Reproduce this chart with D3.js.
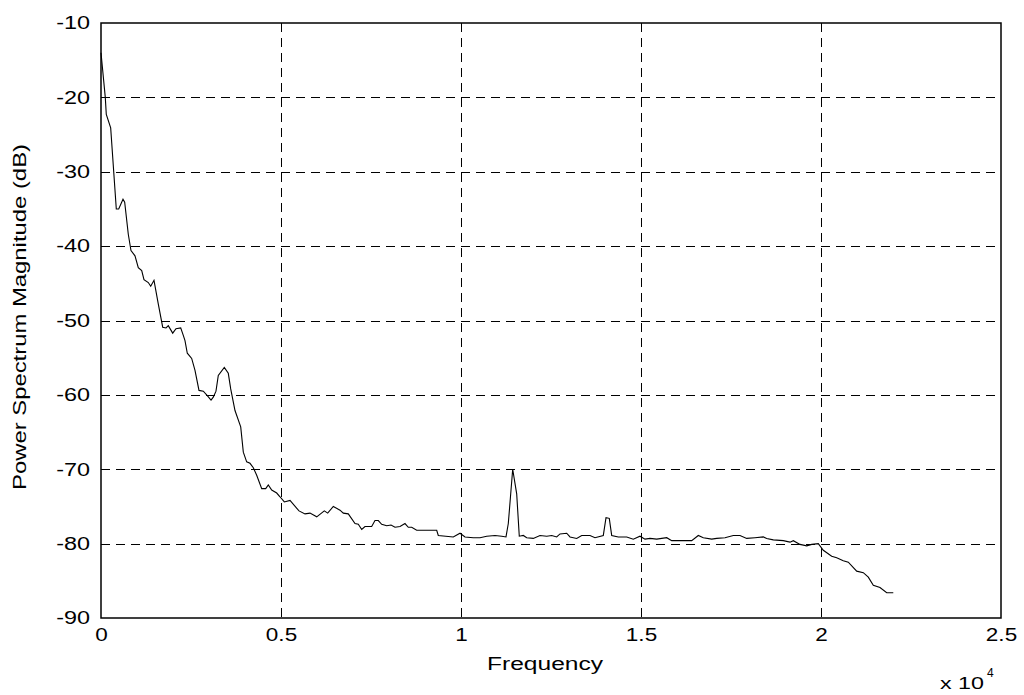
<!DOCTYPE html>
<html>
<head>
<meta charset="utf-8">
<script src="https://cdn.jsdelivr.net/npm/d3@7"></script>
<style>
  html, body { margin: 0; padding: 0; background: #fff; }
  svg text { font-family: "Liberation Sans", Arial, Helvetica, sans-serif; fill: #000; }
</style>
</head>
<body>
<svg id="chart" width="1024" height="695"></svg>
<script>
// Frequency (Hz) samples of the spectrum
const freq = [0,119,147,269,425,492,611,658,758,833,944,1036,1131,1194,1314,1381,1472,1592,1714,1806,1869,1992,2083,2214,2286,2333,2397,2519,2611,2722,2842,2953,3056,3119,3194,3258,3425,3536,3603,3722,3881,3953,4047,4139,4231,4325,4464,4575,4647,4742,4881,4972,5092,5250,5500,5667,5806,5992,6203,6297,6453,6639,6731,6869,7056,7147,7242,7333,7519,7611,7703,7797,7936,8056,8167,8306,8444,8536,8631,8769,9325,9369,9786,9972,10111,10342,10528,10714,10944,11131,11250,11314,11436,11547,11619,11731,11825,12008,12194,12381,12519,12658,12750,12936,13028,13214,13353,13583,13722,13953,14028,14119,14186,14369,14603,14786,14972,15111,15250,15436,15714,15853,16408,16592,16731,16964,17103,17333,17564,17750,17936,18167,18397,18492,18675,18953,19139,19231,19417,19603,19742,19925,20064,20297,20436,20619,20758,20992,21175,21314,21453,21639,21825,22008];
// Power spectrum magnitude (dB)
const power = [-14.0,-20.0,-22.3,-24.1,-35.0,-35.0,-33.7,-34.1,-38.4,-40.6,-41.3,-42.9,-43.3,-44.5,-44.9,-45.4,-44.6,-47.8,-50.9,-51.0,-50.7,-51.7,-51.1,-51.0,-52.0,-52.7,-54.4,-55.1,-56.7,-59.4,-59.5,-60.1,-60.7,-60.3,-59.5,-57.4,-56.3,-57.1,-59.2,-62.1,-64.3,-67.7,-69.0,-69.2,-69.8,-70.8,-72.6,-72.6,-72.1,-72.8,-73.2,-73.7,-74.4,-74.2,-75.6,-76.0,-75.9,-76.4,-75.6,-75.9,-75.0,-75.5,-75.9,-76.0,-77.3,-77.4,-78.1,-77.7,-77.7,-76.9,-76.9,-77.4,-77.6,-77.5,-77.8,-77.7,-77.3,-77.8,-77.8,-78.2,-78.2,-78.9,-79.1,-78.6,-79.1,-79.2,-79.2,-79.0,-78.9,-79.0,-79.1,-77.3,-70.0,-73.3,-79.0,-78.9,-79.2,-79.3,-78.9,-79.0,-78.9,-79.1,-78.7,-78.6,-79.1,-79.3,-78.9,-78.9,-79.2,-78.9,-76.5,-76.6,-78.9,-79.1,-79.1,-79.4,-79.0,-79.4,-79.3,-79.4,-79.2,-79.6,-79.6,-78.9,-79.2,-79.4,-79.3,-79.2,-78.9,-78.9,-79.3,-79.2,-79.1,-79.3,-79.5,-79.6,-79.8,-79.6,-80.1,-80.3,-80.1,-80.0,-80.9,-81.7,-81.9,-82.3,-82.5,-83.7,-83.9,-84.5,-85.6,-85.9,-86.6,-86.6];
const xTicks = [0, 5000, 10000, 15000, 20000, 25000];
const xTickLabels = ["0", "0.5", "1", "1.5", "2", "2.5"];
const yTicks = [-90, -80, -70, -60, -50, -40, -30, -20, -10];
const yTickLabels = ["-90", "-80", "-70", "-60", "-50", "-40", "-30", "-20", "-10"];

const svg = d3.select("#chart");
const L = 101, R = 1001, T = 23, B = 618;

const x = d3.scaleLinear().domain([0, 25000]).range([L, R]);
const y = d3.scaleLinear().domain([-90, -10]).range([B, T]);

function stretch(sel, k) {
  sel.each(function () {
    const w = this.getComputedTextLength();
    d3.select(this).attr("textLength", w * k).attr("lengthAdjust", "spacingAndGlyphs");
  });
}

// grid
const grid = svg.append("g");
grid.selectAll("line.vg").data(xTicks.slice(1, -1)).enter().append("line")
  .attr("x1", d => Math.round(x(d)) + 0.5).attr("x2", d => Math.round(x(d)) + 0.5)
  .attr("y1", T).attr("y2", B)
  .attr("stroke", "#000").attr("stroke-width", 1).attr("stroke-dasharray", "9,6");
grid.selectAll("line.hg").data(yTicks.slice(1, -1)).enter().append("line")
  .attr("y1", d => Math.round(y(d)) + 0.5).attr("y2", d => Math.round(y(d)) + 0.5)
  .attr("x1", L).attr("x2", R)
  .attr("stroke", "#000").attr("stroke-width", 1).attr("stroke-dasharray", "9,6");

// axes
const xAxis = d3.axisBottom(x).tickValues(xTicks).tickFormat((d, i) => xTickLabels[i]).tickSize(0).tickPadding(10);
const gx = svg.append("g").attr("transform", `translate(0,${B})`).call(xAxis);
gx.select(".domain").remove();
gx.selectAll("text").attr("font-size", 18);
stretch(gx.selectAll("text"), 1.25);

const yAxis = d3.axisLeft(y).tickValues(yTicks).tickFormat((d, i) => yTickLabels[i]).tickSize(0).tickPadding(11);
const gy = svg.append("g").attr("transform", `translate(${L},0)`).call(yAxis);
gy.select(".domain").remove();
gy.selectAll("text").attr("font-size", 18);
stretch(gy.selectAll("text"), 1.3);

// data line
const line = d3.line().x((d, i) => x(freq[i])).y(d => y(d));
svg.append("path").datum(power).attr("d", line)
  .attr("fill", "none").attr("stroke", "#000").attr("stroke-width", 1.1);

// frame
svg.append("rect").attr("x", L).attr("y", T).attr("width", R - L).attr("height", B - T)
  .attr("fill", "none").attr("stroke", "#000").attr("stroke-width", 1.5);

// labels
svg.append("text").attr("x", 545).attr("y", 670).attr("text-anchor", "middle")
  .attr("font-size", 18).attr("textLength", 116).attr("lengthAdjust", "spacingAndGlyphs").text("Frequency");
svg.append("text").attr("transform", "translate(26,317) rotate(-90)").attr("text-anchor", "middle")
  .attr("font-size", 18).attr("textLength", 346).attr("lengthAdjust", "spacingAndGlyphs").text("Power Spectrum Magnitude (dB)");
const mult = svg.append("text").attr("x", 940).attr("y", 689).attr("font-size", 17);
mult.append("tspan").text("x 10").attr("textLength", 44).attr("lengthAdjust", "spacingAndGlyphs");
mult.append("tspan").attr("dx", 3).attr("dy", -12).attr("font-size", 12).text("4");
</script>
</body>
</html>
